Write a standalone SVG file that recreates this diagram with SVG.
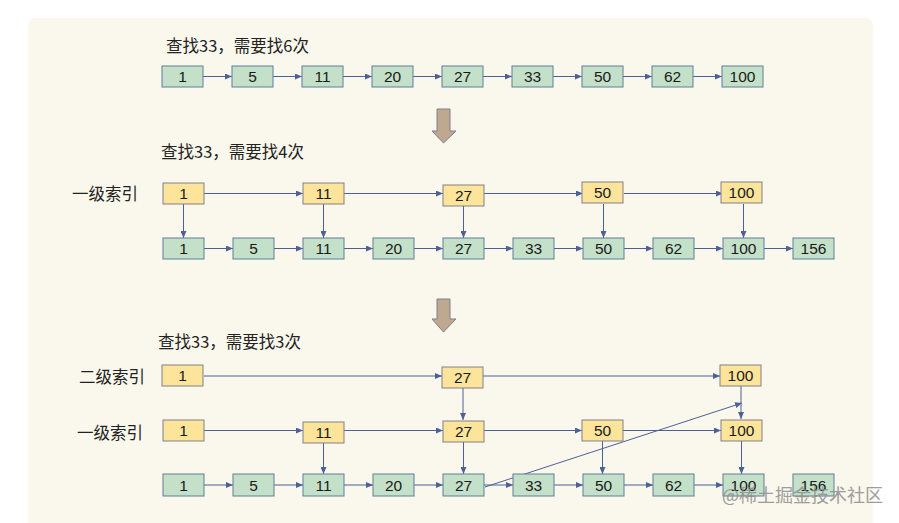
<svg xmlns="http://www.w3.org/2000/svg" width="899" height="523" viewBox="0 0 899 523">
<defs>
<style>
.bg{fill:#FAF7EC}
.g{fill:#C4E0C9;stroke:#5E7E98;stroke-width:1}
.y{fill:#FCE49B;stroke:#80808A;stroke-width:1}
.n{font-family:"Liberation Sans",Arial,sans-serif;font-size:15.5px;fill:#1a1a1a;text-anchor:middle}
.t{font-family:"Noto Sans CJK SC","Liberation Sans",sans-serif;font-size:16.5px;fill:#222}
.c line{stroke:#4D6098;stroke-width:1;marker-end:url(#ah)}
.down{fill:#BEA890;stroke:#857C8E;stroke-width:1}
.wm{font-family:"Noto Sans CJK SC",sans-serif;font-size:18px;fill:#8e8e8e;opacity:0.85}
</style>
<marker id="ah" markerUnits="userSpaceOnUse" markerWidth="8" markerHeight="6" refX="7" refY="3" orient="auto">
<path d="M0,0 L7,3 L0,6 z" fill="#4D6098"/>
</marker>
</defs>
<rect x="0" y="0" width="899" height="523" fill="#ffffff"/>
<rect class="bg" x="28" y="18" width="845" height="515" rx="8"/>

<!-- titles -->
<text class="t" x="166" y="52">查找33，需要找6次</text>
<text class="t" x="161" y="158">查找33，需要找4次</text>
<text class="t" x="158" y="348">查找33，需要找3次</text>
<text class="t" x="72" y="200">一级索引</text>
<text class="t" x="79" y="383">二级索引</text>
<text class="t" x="77" y="439">一级索引</text>

<!-- down arrows -->
<path class="down" d="M437,109 H450 V131 H456 L443.5,143 L432,131 H437 Z"/>
<path class="down" d="M437,299 H450 V319 H456 L443.5,332 L432,319 H437 Z"/>

<!-- connectors -->
<g id="connectors" class="c">
<line x1="203" y1="76.5" x2="232" y2="76.5"/>
<line x1="273" y1="76.5" x2="302" y2="76.5"/>
<line x1="343" y1="76.5" x2="372" y2="76.5"/>
<line x1="413" y1="76.5" x2="442" y2="76.5"/>
<line x1="483" y1="76.5" x2="512" y2="76.5"/>
<line x1="553" y1="76.5" x2="582" y2="76.5"/>
<line x1="623" y1="76.5" x2="652" y2="76.5"/>
<line x1="693" y1="76.5" x2="722" y2="76.5"/>
<line x1="204" y1="193.5" x2="303" y2="193.5"/>
<line x1="344" y1="193.5" x2="443" y2="193.5"/>
<line x1="484" y1="193.5" x2="583" y2="193.5"/>
<line x1="624" y1="193.5" x2="723" y2="193.5"/>
<line x1="183.5" y1="204" x2="183.5" y2="238"/>
<line x1="323.5" y1="204" x2="323.5" y2="238"/>
<line x1="463.5" y1="206" x2="463.5" y2="238"/>
<line x1="603.5" y1="204" x2="603.5" y2="238"/>
<line x1="743.5" y1="204" x2="743.5" y2="238"/>
<line x1="204" y1="248.5" x2="233" y2="248.5"/>
<line x1="274" y1="248.5" x2="303" y2="248.5"/>
<line x1="344" y1="248.5" x2="373" y2="248.5"/>
<line x1="414" y1="248.5" x2="443" y2="248.5"/>
<line x1="484" y1="248.5" x2="513" y2="248.5"/>
<line x1="554" y1="248.5" x2="583" y2="248.5"/>
<line x1="624" y1="248.5" x2="653" y2="248.5"/>
<line x1="694" y1="248.5" x2="723" y2="248.5"/>
<line x1="764" y1="248.5" x2="793" y2="248.5"/>
<line x1="204" y1="376" x2="442" y2="376"/>
<line x1="483" y1="376" x2="720" y2="376"/>
<line x1="463" y1="388" x2="463" y2="420"/>
<line x1="741" y1="386" x2="741" y2="419"/>
<line x1="204" y1="430.5" x2="303" y2="430.5"/>
<line x1="344" y1="430.5" x2="443" y2="430.5"/>
<line x1="484" y1="430.5" x2="582" y2="430.5"/>
<line x1="623" y1="430.5" x2="721" y2="430.5"/>
<line x1="323.5" y1="443" x2="323.5" y2="474"/>
<line x1="463.5" y1="442" x2="463.5" y2="474"/>
<line x1="602.5" y1="441" x2="602.5" y2="474"/>
<line x1="741.5" y1="441" x2="741.5" y2="474"/>
<line x1="204" y1="485" x2="233" y2="485"/>
<line x1="274" y1="485" x2="303" y2="485"/>
<line x1="344" y1="485" x2="373" y2="485"/>
<line x1="414" y1="485" x2="443" y2="485"/>
<line x1="484" y1="485" x2="513" y2="485"/>
<line x1="554" y1="485" x2="583" y2="485"/>
<line x1="624" y1="485" x2="653" y2="485"/>
<line x1="694" y1="485" x2="723" y2="485"/>
<line x1="485" y1="487" x2="742" y2="403"/>
</g>

<g id="s1-1"><rect class="g" x="162" y="66" width="41" height="21"/><text class="n" x="182.5" y="82">1</text></g>
<g id="s1-5"><rect class="g" x="232" y="66" width="41" height="21"/><text class="n" x="252.5" y="82">5</text></g>
<g id="s1-11"><rect class="g" x="302" y="66" width="41" height="21"/><text class="n" x="322.5" y="82">11</text></g>
<g id="s1-20"><rect class="g" x="372" y="66" width="41" height="21"/><text class="n" x="392.5" y="82">20</text></g>
<g id="s1-27"><rect class="g" x="442" y="66" width="41" height="21"/><text class="n" x="462.5" y="82">27</text></g>
<g id="s1-33"><rect class="g" x="512" y="66" width="41" height="21"/><text class="n" x="532.5" y="82">33</text></g>
<g id="s1-50"><rect class="g" x="582" y="66" width="41" height="21"/><text class="n" x="602.5" y="82">50</text></g>
<g id="s1-62"><rect class="g" x="652" y="66" width="41" height="21"/><text class="n" x="672.5" y="82">62</text></g>
<g id="s1-100"><rect class="g" x="722" y="66" width="41" height="21"/><text class="n" x="742.5" y="82">100</text></g>

<g id="s2i-1"><rect class="y" x="163" y="183" width="41" height="21"/><text class="n" x="183.5" y="199">1</text></g>
<g id="s2i-11"><rect class="y" x="303" y="183" width="41" height="21"/><text class="n" x="323.5" y="199">11</text></g>
<g id="s2i-27"><rect class="y" x="443" y="185" width="41" height="21"/><text class="n" x="463.5" y="201">27</text></g>
<g id="s2i-50"><rect class="y" x="582" y="182" width="41" height="21"/><text class="n" x="602.5" y="198">50</text></g>
<g id="s2i-100"><rect class="y" x="721" y="182" width="41" height="21"/><text class="n" x="741.5" y="198">100</text></g>

<g id="s2-1"><rect class="g" x="163" y="238" width="41" height="21"/><text class="n" x="183.5" y="254">1</text></g>
<g id="s2-5"><rect class="g" x="233" y="238" width="41" height="21"/><text class="n" x="253.5" y="254">5</text></g>
<g id="s2-11"><rect class="g" x="303" y="238" width="41" height="21"/><text class="n" x="323.5" y="254">11</text></g>
<g id="s2-20"><rect class="g" x="373" y="238" width="41" height="21"/><text class="n" x="393.5" y="254">20</text></g>
<g id="s2-27"><rect class="g" x="443" y="238" width="41" height="21"/><text class="n" x="463.5" y="254">27</text></g>
<g id="s2-33"><rect class="g" x="513" y="238" width="41" height="21"/><text class="n" x="533.5" y="254">33</text></g>
<g id="s2-50"><rect class="g" x="583" y="238" width="41" height="21"/><text class="n" x="603.5" y="254">50</text></g>
<g id="s2-62"><rect class="g" x="653" y="238" width="41" height="21"/><text class="n" x="673.5" y="254">62</text></g>
<g id="s2-100"><rect class="g" x="723" y="238" width="41" height="21"/><text class="n" x="743.5" y="254">100</text></g>
<g id="s2-156"><rect class="g" x="793" y="238" width="41" height="21"/><text class="n" x="813.5" y="254">156</text></g>

<g id="s3l2-1"><rect class="y" x="162" y="365" width="41" height="21"/><text class="n" x="182.5" y="381">1</text></g>
<g id="s3l2-27"><rect class="y" x="442" y="367" width="41" height="21"/><text class="n" x="462.5" y="383">27</text></g>
<g id="s3l2-100"><rect class="y" x="720" y="365" width="41" height="21"/><text class="n" x="740.5" y="381">100</text></g>

<g id="s3l1-1"><rect class="y" x="163" y="420" width="41" height="21"/><text class="n" x="183.5" y="436">1</text></g>
<g id="s3l1-11"><rect class="y" x="303" y="422" width="41" height="21"/><text class="n" x="323.5" y="438">11</text></g>
<g id="s3l1-27"><rect class="y" x="443" y="421" width="41" height="21"/><text class="n" x="463.5" y="437">27</text></g>
<g id="s3l1-50"><rect class="y" x="582" y="420" width="41" height="21"/><text class="n" x="602.5" y="436">50</text></g>
<g id="s3l1-100"><rect class="y" x="721" y="420" width="41" height="21"/><text class="n" x="741.5" y="436">100</text></g>

<g id="s3-1"><rect class="g" x="163" y="474" width="41" height="22"/><text class="n" x="183.5" y="490.5">1</text></g>
<g id="s3-5"><rect class="g" x="233" y="474" width="41" height="22"/><text class="n" x="253.5" y="490.5">5</text></g>
<g id="s3-11"><rect class="g" x="303" y="474" width="41" height="22"/><text class="n" x="323.5" y="490.5">11</text></g>
<g id="s3-20"><rect class="g" x="373" y="474" width="41" height="22"/><text class="n" x="393.5" y="490.5">20</text></g>
<g id="s3-27"><rect class="g" x="443" y="474" width="41" height="22"/><text class="n" x="463.5" y="490.5">27</text></g>
<g id="s3-33"><rect class="g" x="513" y="474" width="41" height="22"/><text class="n" x="533.5" y="490.5">33</text></g>
<g id="s3-50"><rect class="g" x="583" y="474" width="41" height="22"/><text class="n" x="603.5" y="490.5">50</text></g>
<g id="s3-62"><rect class="g" x="653" y="474" width="41" height="22"/><text class="n" x="673.5" y="490.5">62</text></g>
<g id="s3-100"><rect class="g" x="723" y="474" width="41" height="22"/><text class="n" x="743.5" y="490.5">100</text></g>
<g id="s3-156"><rect class="g" x="793" y="474" width="41" height="22"/><text class="n" x="813.5" y="490.5">156</text></g>

<text class="wm" x="722" y="502">@稀土掘金技术社区</text>
</svg>
